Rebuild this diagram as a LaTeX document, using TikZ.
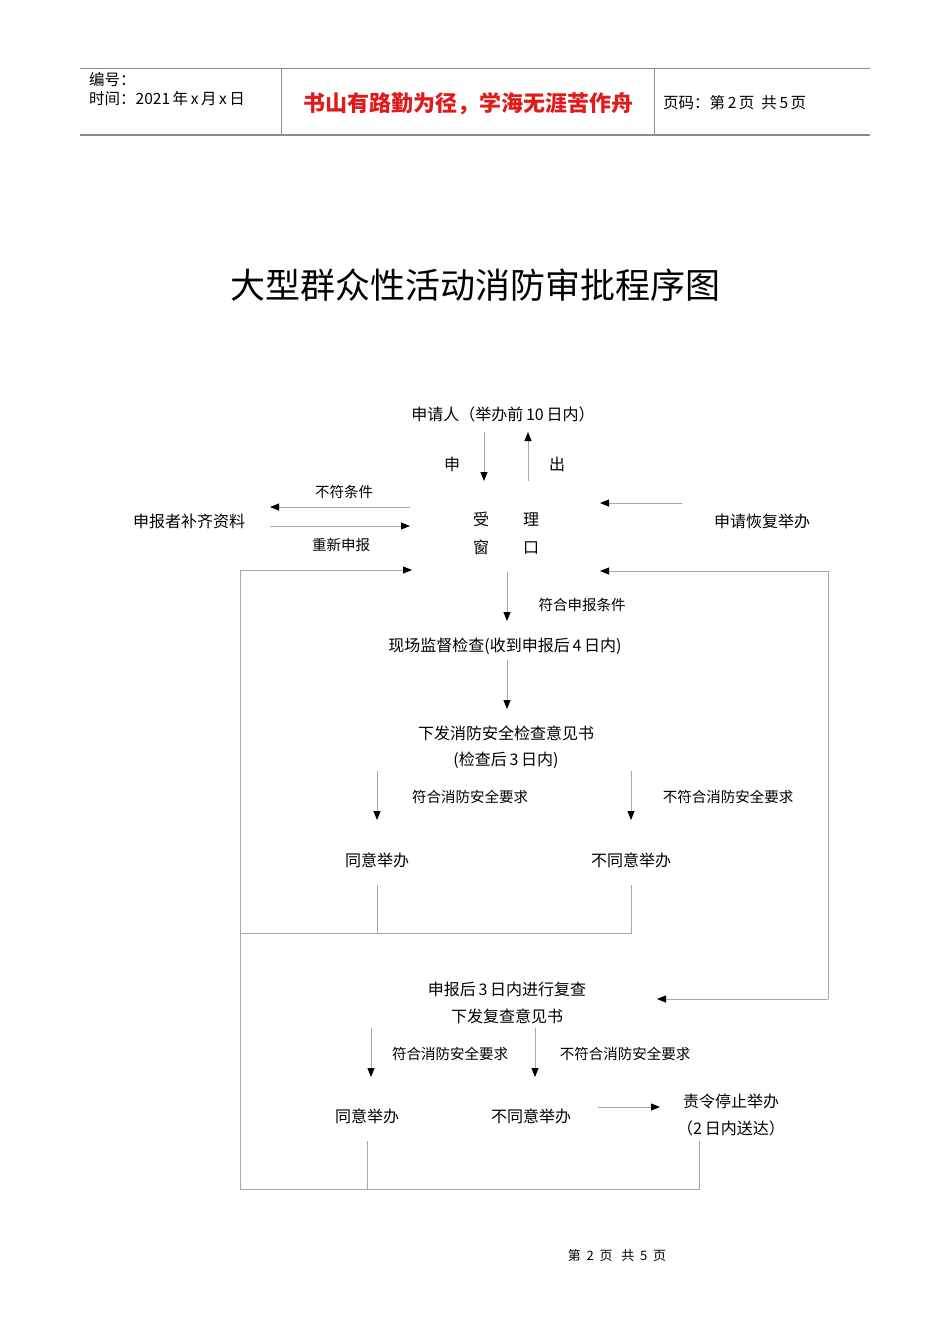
\documentclass[tikz,border=0pt]{standalone}
\usepackage{fontspec}
\setmainfont{Noto Sans CJK SC}
\usetikzlibrary{arrows.meta}
\definecolor{FlowGray}{HTML}{A8A8A8}
\definecolor{RuleGray}{HTML}{8C8C8C}
\definecolor{MottoRed}{HTML}{E01B1B}

\begin{document}
\begin{tikzpicture}[
  x=1pt,y=-1pt,
  txt/.style={font=\fontsize{16}{18}\selectfont,inner sep=0pt},
  lbl/.style={font=\fontsize{14.5}{17}\selectfont,inner sep=0pt},
  head/.style={font=\fontsize{15.5}{19}\selectfont,inner sep=0pt,anchor=west},
  arrow/.style={-{Triangle[length=9pt,width=7pt,color=black]},draw=FlowGray,line width=0.8pt},
  wire/.style={draw=FlowGray,line width=0.8pt}
]
\useasboundingbox (0,0) rectangle (950,1344);
% header
\draw[RuleGray,line width=0.8pt] (80,68) -- (870,68);
\draw[RuleGray,line width=2pt] (80,135) -- (870,135);
\draw[RuleGray,line width=0.8pt] (281,68) -- (281,135);
\draw[RuleGray,line width=0.8pt] (654,68) -- (654,135);
\node[head] (docno) at (89,80) {编号：};
\node[head] (docdate) at (89,99) {时间：2021\,年\,x\,月\,x\,日};
\node[font=\fontsize{22}{25}\selectfont\bfseries,text=MottoRed,inner sep=0pt] (motto) at (468,104) {书山有路勤为径，学海无涯苦作舟};
\node[head] (pageno) at (663,103) {页码：第\,2\,页\ \ 共\,5\,页};
\node[font=\fontsize{35}{40}\selectfont,inner sep=0pt] (title) at (475,285) {大型群众性活动消防审批程序图};

% nodes
\node[txt] (applicant) at (503,414) {申请人（举办前\,10\,日内）};
\node[txt,font=\fontsize{16}{28}\selectfont,align=center] (window) at (506,533) {受\hspace{34pt}理\\窗\hspace{34pt}口};
\node[txt] (supplement) at (189,521) {申报者补齐资料};
\node[txt] (resume) at (762,521) {申请恢复举办};
\node[txt] (inspect) at (505,646) {现场监督检查(收到申报后\,4\,日内)};
\node[txt] (opinion) at (506,733) {下发消防安全检查意见书};
\node[txt] (opinionday) at (506,760) {(检查后\,3\,日内)};
\node[txt] (agree) at (377,860) {同意举办};
\node[txt] (disagree) at (631,860) {不同意举办};
\node[txt] (recheck) at (507,989) {申报后\,3\,日内进行复查};
\node[txt] (recheckdoc) at (507,1016) {下发复查意见书};
\node[txt] (agreetwo) at (367,1116) {同意举办};
\node[txt] (disagreetwo) at (531,1116) {不同意举办};
\node[txt] (stop) at (731,1101) {责令停止举办};
\node[txt] (stopday) at (731,1128) {（2\,日内送达）};

% labels
\node[txt] (lblapply) at (452,464) {申};
\node[txt] (lblout) at (557,464) {出};
\node[lbl] (lblfail) at (344,492) {不符条件};
\node[lbl] (lblresubmit) at (341,545) {重新申报};
\node[lbl] (lblmeet) at (582,605) {符合申报条件};
\node[lbl] (lblok) at (470,797) {符合消防安全要求};
\node[lbl] (lblnotok) at (728,797) {不符合消防安全要求};
\node[lbl] (lbloktwo) at (450,1054) {符合消防安全要求};
\node[lbl] (lblnotoktwo) at (625,1054) {不符合消防安全要求};

% connector ends
\coordinate (applyA) at (484,432); \coordinate (applyB) at (484,481);
\coordinate (outA) at (528,481); \coordinate (outB) at (528,432);
\coordinate (failA) at (410,507); \coordinate (failB) at (270,507);
\coordinate (resubA) at (270,526); \coordinate (resubB) at (410,526);
\coordinate (resumeA) at (682,503); \coordinate (resumeB) at (600,503);
\coordinate (meetA) at (507,572); \coordinate (meetB) at (507,621);
\coordinate (inspA) at (507,660); \coordinate (inspB) at (507,709);
\coordinate (okA) at (377,771); \coordinate (okB) at (377,820);
\coordinate (nokA) at (631,771); \coordinate (nokB) at (631,820);
\coordinate (oktwoA) at (371,1028); \coordinate (oktwoB) at (371,1077);
\coordinate (noktwoA) at (535,1028); \coordinate (noktwoB) at (535,1077);
\coordinate (stopA) at (598,1107); \coordinate (stopB) at (660,1107);
\coordinate (loopL) at (240,570); \coordinate (loopLin) at (412,570);
\coordinate (loopR) at (828,571); \coordinate (loopRin) at (600,571);
\coordinate (loopRlow) at (828,999); \coordinate (loopRlowin) at (657,999);

% arrows
\draw[arrow] (applyA) -- (applyB);
\draw[arrow] (outA) -- (outB);
\draw[arrow] (failA) -- (failB);
\draw[arrow] (resubA) -- (resubB);
\draw[arrow] (resumeA) -- (resumeB);
\draw[arrow] (meetA) -- (meetB);
\draw[arrow] (inspA) -- (inspB);
\draw[arrow] (okA) -- (okB);
\draw[arrow] (nokA) -- (nokB);
\draw[arrow] (oktwoA) -- (oktwoB);
\draw[arrow] (noktwoA) -- (noktwoB);
\draw[arrow] (stopA) -- (stopB);
\draw[arrow] (240,1189) -- (loopL) -- (loopLin);
\draw[arrow] (loopRlow) -- (loopR) -- (loopRin);
\draw[arrow] (loopRlow) -- (loopRlowin);

% return lines
\draw[wire] (agree.south |- 0,885) -- (agree.south |- 0,933) -| (disagree.south |- 0,885);
\draw[wire] (240,933) -- (agree.south |- 0,933);
\draw[wire] (agreetwo.south |- 0,1141) -- (agreetwo.south |- 0,1189);
\draw[wire] (240,1189) -| (699,1141);

% footer
\node[font=\fontsize{13}{15}\selectfont,inner sep=0pt] (footer) at (617,1256) {第\ \ 2\ \ 页\ \ \ 共\ \ 5\ \ 页};
\end{tikzpicture}
\end{document}
